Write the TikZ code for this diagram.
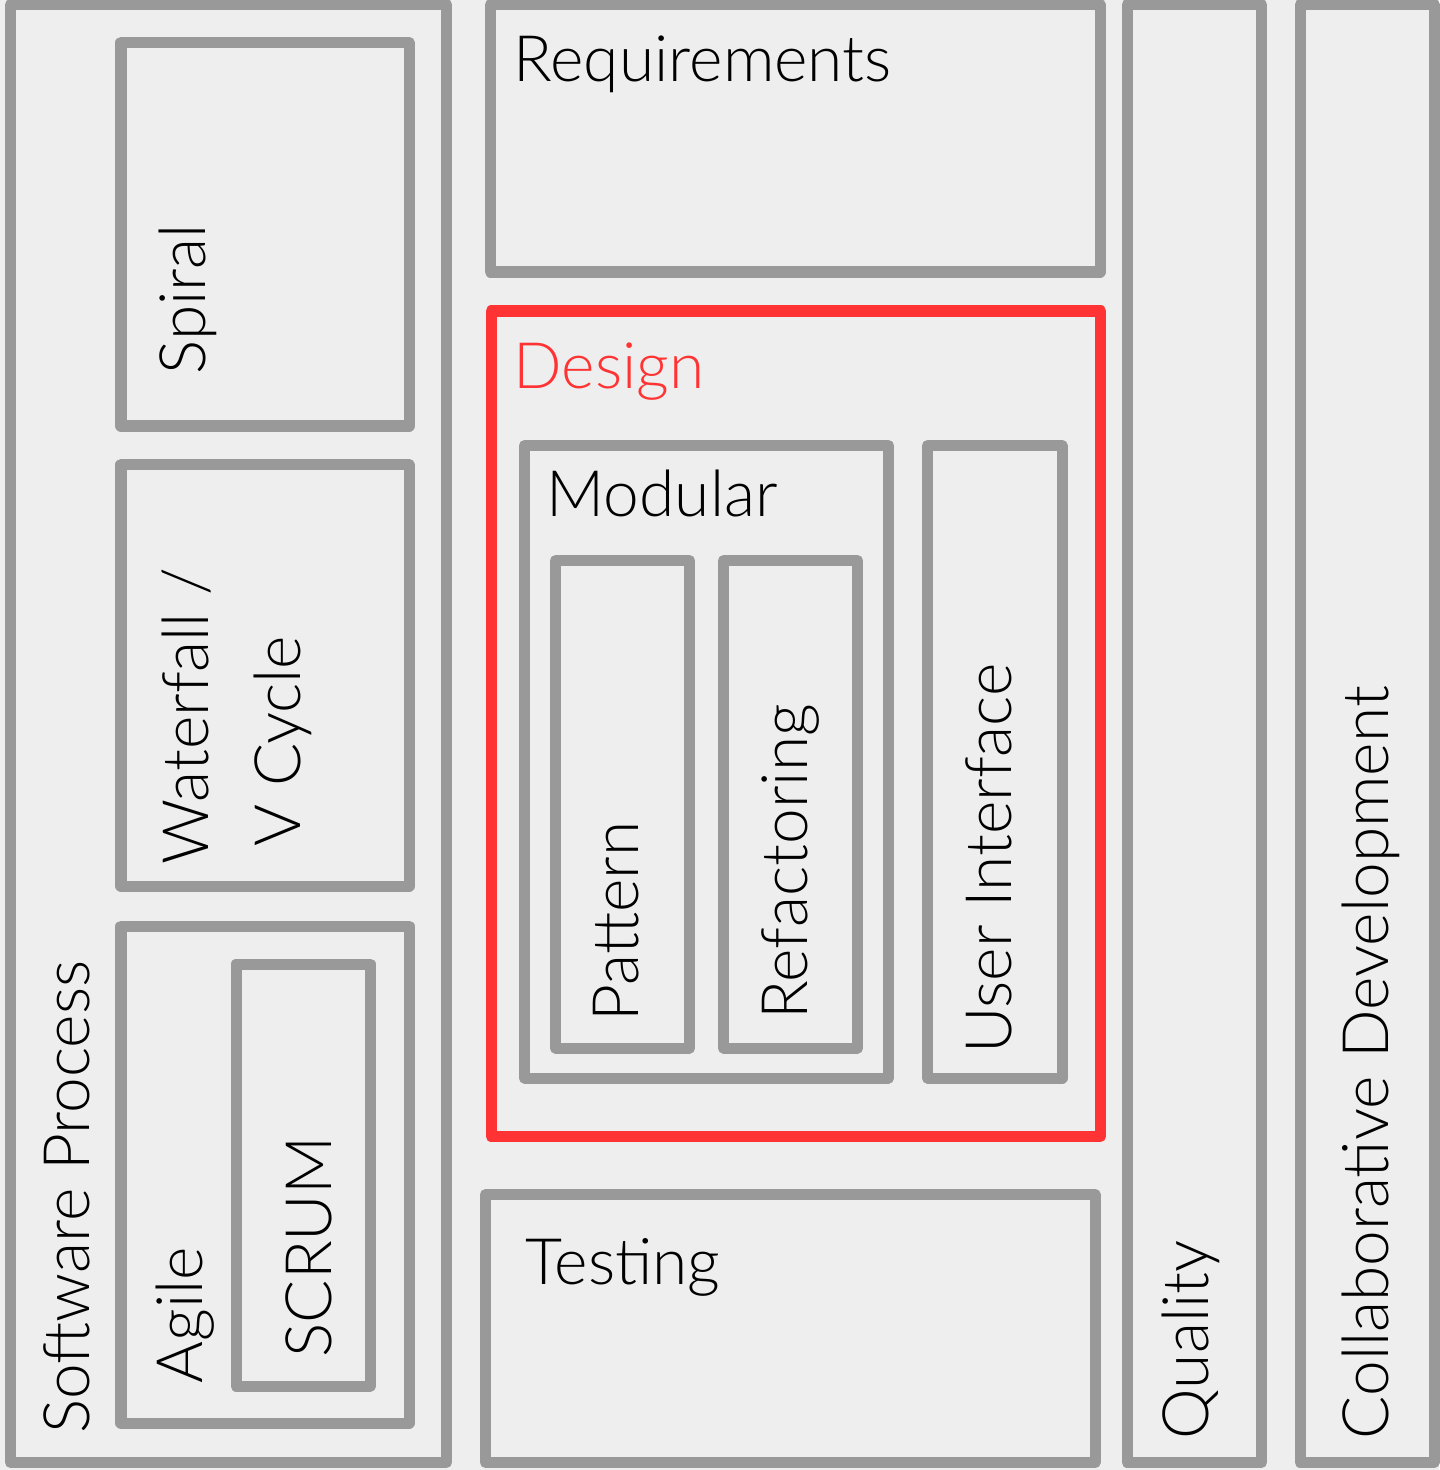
\documentclass[tikz,border=0pt]{standalone}
\usepackage{fontspec}
\IfFontExistsTF{Lato Light}{\setmainfont{Lato Light}}{\setmainfont{Open Sans}}
\usetikzlibrary{positioning}
\definecolor{boxgray}{HTML}{999999}
\definecolor{paper}{HTML}{EEEEEE}
\definecolor{hilite}{HTML}{FF3333}

\begin{document}
\begin{tikzpicture}[x=0.01cm, y=-0.01cm,
    box/.style={draw=boxgray, line width=0.11cm, line join=round, fill=paper},
    redbox/.style={box, draw=hilite},
    lbl/.style={anchor=base west, inner sep=0pt, font=\fontsize{18.2}{26.1}\selectfont},
    vlbl/.style={lbl, rotate=90}
  ]
  \fill[paper] (0,0) rectangle (1439,1470);
  \useasboundingbox (0,0) rectangle (1439,1470);

  % process column
  \draw[box] (10.5,4.5) rectangle (446.5,1462.5);
  \draw[box] (121,42.5) rectangle (409,426);
  \draw[box] (121,464.5) rectangle (409,886);
  \draw[box] (121,926) rectangle (409,1423);
  \draw[box] (236,964) rectangle (370.5,1386);
  \node[vlbl] (process) at (89,1434) {Software Process};
  \node[vlbl] (spiral) at (205,375) {Spiral};
  \node[vlbl, align=left] (waterfall) at (300.7,865) {Waterfall /\\\kern0.18cm V Cycle};
  \node[vlbl] (agile) at (202,1384) {Agile};
  \node[vlbl] (scrum) at (331.5,1358) {SCRUM};

  % middle column
  \draw[box] (490.5,4.5) rectangle (1100,272);
  \node[lbl] (req) at (513,82) {Requirements};

  \draw[redbox] (491,311) rectangle (1100.5,1136.5);
  \node[lbl, text=hilite] (design) at (513,389) {Design};
  \draw[box] (524.5,445.5) rectangle (888.5,1078);
  \node[lbl] (modular) at (546,516) {Modular};
  \draw[box] (555.5,560.5) rectangle (689.5,1048);
  \draw[box] (723.5,560.5) rectangle (857.5,1048);
  \draw[box] (927.5,445.5) rectangle (1062,1078);
  \node[vlbl] (pattern) at (638.5,1022) {Pattern};
  \node[vlbl] (refactor) at (807,1020) {Refactoring};
  \node[vlbl] (ui) at (1011,1054) {User Interface};

  \draw[box] (485.5,1194.5) rectangle (1095,1462.5);
  \node[lbl] (testing) at (525,1284) {Testing};

  % right columns
  \draw[box] (1127,4.5) rectangle (1261.5,1462.5);
  \node[vlbl] (quality) at (1208,1440) {Quality};
  \draw[box] (1300,4.5) rectangle (1434,1462.5);
  \node[vlbl] (collab) at (1388,1440) {Collaborative Development};
\end{tikzpicture}
\end{document}
